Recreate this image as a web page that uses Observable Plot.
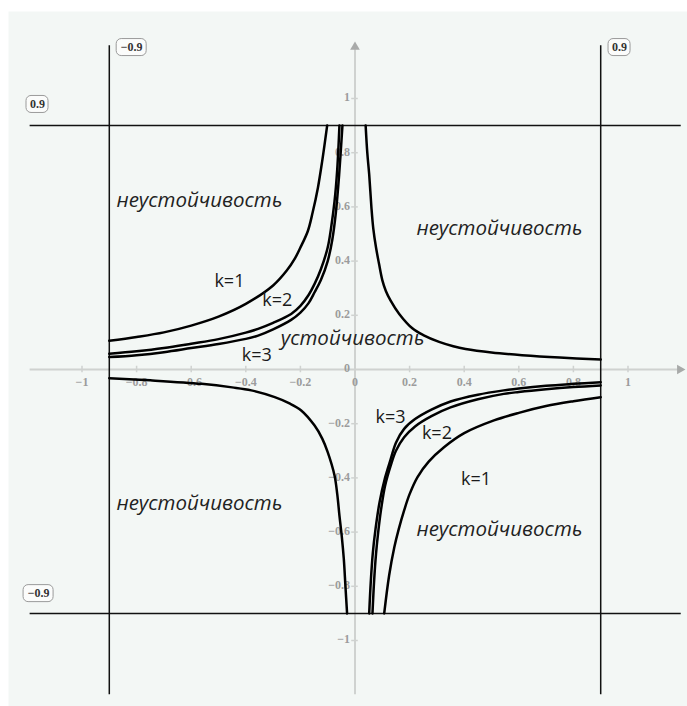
<!DOCTYPE html>
<html>
<head>
<meta charset="utf-8">
<script src="https://cdn.jsdelivr.net/npm/d3@7"></script>
<script src="https://cdn.jsdelivr.net/npm/@observablehq/plot@0.6"></script>
<style>
  html, body { margin: 0; padding: 0; background: #ffffff; }
</style>
</head>
<body>
<div id="chart"></div>
<script>
// ---- tick values and labels ----
const xTicks = [-1, -0.8, -0.6, -0.4, -0.2, 0, 0.2, 0.4, 0.6, 0.8, 1];
const xTickLabels = ["−1", "−0.8", "−0.6", "−0.4", "−0.2", "0", "0.2", "0.4", "0.6", "0.8", "1"];
const yTicks = [-1, -0.8, -0.6, -0.4, -0.2, 0, 0.2, 0.4, 0.6, 0.8, 1];
const yTickLabels = ["−1", "−0.8", "−0.6", "−0.4", "−0.2", "0", "0.2", "0.4", "0.6", "0.8", "1"];

// ---- boundary lines ----
const boundsX = [-0.9, 0.9];
const boundsY = [-0.9, 0.9];

// ---- curves (x, y) ----
const upperRight = [[0.039,0.9],[0.045,0.8],[0.052,0.72],[0.06,0.6],[0.067,0.52],[0.077,0.45],[0.088,0.39],[0.1,0.33],[0.113,0.29],[0.13,0.255],[0.162,0.205],[0.21,0.152],[0.25,0.127],[0.308,0.102],[0.36,0.086],[0.405,0.076],[0.5,0.063],[0.612,0.053],[0.75,0.044],[0.9,0.037]];
const lowerLeft = [[-0.9,-0.032],[-0.75,-0.04],[-0.562,-0.053],[-0.45,-0.066],[-0.38,-0.077],[-0.294,-0.102],[-0.24,-0.125],[-0.197,-0.151],[-0.148,-0.207],[-0.12,-0.255],[-0.1,-0.305],[-0.075,-0.391],[-0.065,-0.46],[-0.057,-0.539],[-0.048,-0.62],[-0.041,-0.699],[-0.035,-0.8],[-0.029,-0.9]];
const upperLeftK1 = [[-0.9,0.106],[-0.8,0.12],[-0.7,0.137],[-0.6,0.162],[-0.5,0.195],[-0.4,0.242],[-0.3,0.31],[-0.25,0.365],[-0.22,0.41],[-0.2,0.45],[-0.173,0.51],[-0.155,0.58],[-0.136,0.67],[-0.12,0.77],[-0.102,0.9]];
const upperLeftK2 = [[-0.9,0.058],[-0.8,0.067],[-0.7,0.079],[-0.6,0.095],[-0.5,0.112],[-0.4,0.136],[-0.355,0.15],[-0.3,0.172],[-0.234,0.205],[-0.2,0.235],[-0.17,0.275],[-0.148,0.316],[-0.125,0.37],[-0.1,0.45],[-0.088,0.52],[-0.075,0.62],[-0.065,0.74],[-0.057,0.9]];
const upperLeftK3 = [[-0.9,0.046],[-0.8,0.053],[-0.7,0.064],[-0.6,0.079],[-0.5,0.094],[-0.4,0.113],[-0.355,0.125],[-0.3,0.148],[-0.234,0.183],[-0.2,0.21],[-0.17,0.245],[-0.148,0.285],[-0.125,0.33],[-0.1,0.4],[-0.083,0.48],[-0.07,0.58],[-0.058,0.72],[-0.046,0.9]];
const lowerRightK1 = [[0.107,-0.9],[0.125,-0.76],[0.144,-0.656],[0.16,-0.59],[0.18,-0.52],[0.2,-0.46],[0.229,-0.397],[0.27,-0.34],[0.326,-0.287],[0.4,-0.235],[0.509,-0.188],[0.6,-0.16],[0.7,-0.135],[0.8,-0.117],[0.9,-0.102]];
const lowerRightK2 = [[0.064,-0.9],[0.07,-0.78],[0.077,-0.68],[0.085,-0.6],[0.095,-0.52],[0.11,-0.43],[0.131,-0.354],[0.15,-0.3],[0.18,-0.25],[0.22,-0.21],[0.28,-0.172],[0.35,-0.14],[0.45,-0.11],[0.545,-0.09],[0.6,-0.083],[0.7,-0.073],[0.8,-0.065],[0.9,-0.059]];
const lowerRightK3 = [[0.052,-0.9],[0.058,-0.78],[0.065,-0.68],[0.075,-0.59],[0.09,-0.49],[0.11,-0.4],[0.131,-0.33],[0.15,-0.27],[0.18,-0.219],[0.22,-0.183],[0.28,-0.148],[0.35,-0.118],[0.45,-0.093],[0.545,-0.077],[0.6,-0.07],[0.7,-0.06],[0.8,-0.053],[0.9,-0.047]];

// ---- annotation texts ----
const regionLabels = [
  {text: "неустойчивость", x: -0.57, y: 0.624},
  {text: "неустойчивость", x: 0.529, y: 0.52},
  {text: "неустойчивость", x: -0.57, y: -0.494},
  {text: "неустойчивость", x: 0.529, y: -0.59},
  {text: "устойчивость", x: -0.009, y: 0.114}
];
const kLabels = [
  {text: "k=1", x: -0.46, y: 0.325},
  {text: "k=2", x: -0.285, y: 0.255},
  {text: "k=3", x: -0.36, y: 0.052},
  {text: "k=3", x: 0.13, y: -0.177},
  {text: "k=2", x: 0.3, y: -0.236},
  {text: "k=1", x: 0.443, y: -0.406}
];
const boxLabels = [
  {text: "−0.9", x: -0.818, y: 1.188},
  {text: "0.9", x: 0.969, y: 1.188},
  {text: "0.9", x: -1.163, y: 0.978},
  {text: "−0.9", x: -1.159, y: -0.827}
];
const axisExtentX = [-1.19, 1.19];
const axisExtentY = [-1.2, 1.19];
const lineExtentX = [-1.19, 1.195];
const lineExtentY = [-1.2, 1.195];

const toPts = (arr) => arr.map(([x, y]) => ({x, y}));
const curves = [upperRight, lowerLeft, upperLeftK1, upperLeftK2, upperLeftK3, lowerRightK1, lowerRightK2, lowerRightK3];

const axisColor = "#cfd2d0";
const tickTextColor = "#9c9c9c";
const serif = "'Liberation Serif', 'DejaVu Serif', serif";
const sans = "'Open Sans', 'Noto Sans', sans-serif";

const marks = [
  Plot.frame({fill: "#f3f7f5", stroke: null}),
  // axes
  Plot.ruleY([0], {x1: axisExtentX[0], x2: axisExtentX[1], stroke: axisColor, strokeWidth: 2}),
  Plot.ruleX([0], {y1: axisExtentY[0], y2: axisExtentY[1], stroke: axisColor, strokeWidth: 2}),
  Plot.dot([{x: axisExtentX[1], y: 0}], {x: "x", y: "y", symbol: "triangle", r: 3.6, rotate: 90, fill: "#a8aaa9", stroke: null}),
  Plot.dot([{x: 0, y: axisExtentY[1]}], {x: "x", y: "y", symbol: "triangle", r: 3.6, fill: "#a8aaa9", stroke: null}),
  // ticks
  Plot.ruleX(xTicks.filter(d => d !== 0), {x: d => d, y1: -0.012, y2: 0.012, stroke: axisColor, strokeWidth: 1.5}),
  Plot.ruleY(yTicks.filter(d => d !== 0), {y: d => d, x1: -0.012, x2: 0.012, stroke: axisColor, strokeWidth: 1.5}),
  Plot.text(xTicks, {x: d => d, y: 0, dy: 13, text: (d, i) => xTickLabels[i], fill: tickTextColor, fontFamily: serif, fontWeight: "bold", fontSize: 12}),
  Plot.text(yTicks, {x: 0, y: d => d, dx: -5, dy: -1, text: (d, i) => yTickLabels[i], textAnchor: "end", fill: tickTextColor, fontFamily: serif, fontWeight: "bold", fontSize: 12}),
  // boundary lines
  Plot.ruleX(boundsX, {x: d => d, y1: lineExtentY[0], y2: lineExtentY[1], stroke: "#111", strokeWidth: 1.5}),
  Plot.ruleY(boundsY, {y: d => d, x1: lineExtentX[0], x2: lineExtentX[1], stroke: "#111", strokeWidth: 1.5}),
  // curves
  ...curves.map(c => Plot.line(toPts(c), {x: "x", y: "y", curve: "catmull-rom", stroke: "#000", strokeWidth: 2.5})),
  // region labels
  Plot.text(regionLabels, {x: "x", y: "y", text: "text", fontFamily: sans, fontStyle: "italic", fontSize: 20.5, fill: "#222"}),
  Plot.text(kLabels, {x: "x", y: "y", text: "text", fontFamily: sans, fontSize: 18, fill: "#1a1a1a"}),
  // boxed labels
  Plot.rect(boxLabels.filter(d => d.text.length > 3), {x1: "x", x2: "x", y1: "y", y2: "y", insetLeft: -15, insetRight: -15, insetTop: -8.5, insetBottom: -8.5, rx: 5, fill: "#fbfcfb", stroke: "#9a9a9a", strokeWidth: 1}),
  Plot.rect(boxLabels.filter(d => d.text.length <= 3), {x1: "x", x2: "x", y1: "y", y2: "y", insetLeft: -11, insetRight: -11, insetTop: -8.5, insetBottom: -8.5, rx: 5, fill: "#fbfcfb", stroke: "#9a9a9a", strokeWidth: 1}),
  Plot.text(boxLabels, {x: "x", y: "y", text: "text", fill: "#333", fontFamily: serif, fontWeight: "bold", fontSize: 12})
];

const chart = Plot.plot({
  width: 687,
  height: 706,
  marginTop: 11,
  marginLeft: 8,
  marginRight: 0,
  marginBottom: 0,
  x: {domain: [-1, 1], range: [81.5, 627.5], axis: null},
  y: {domain: [-1, 1], range: [640, 98], axis: null},
  style: {background: "#ffffff", overflow: "visible"},
  marks
});
document.getElementById("chart").appendChild(chart);
</script>
</body>
</html>
